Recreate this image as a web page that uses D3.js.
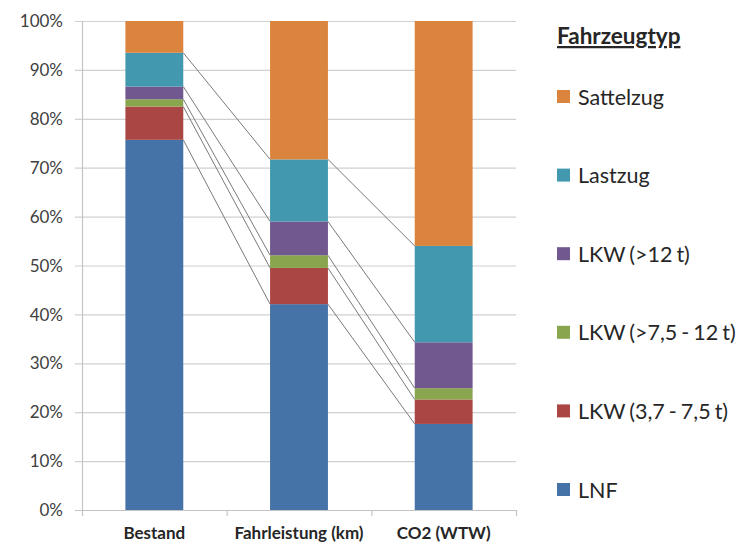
<!DOCTYPE html>
<html>
<head>
<meta charset="utf-8">
<script src="https://cdn.jsdelivr.net/npm/d3@7"></script>
<style>
  html, body { margin: 0; padding: 0; background: #fff; }
  svg { display: block; }
</style>
</head>
<body>
<svg id="chart" width="744" height="545"></svg>
<script>
// Categories along the x axis
const categories = ["Bestand", "Fahrleistung (km)", "CO2 (WTW)"];

// Vehicle types, bottom of the stack first
const seriesNames = ["LNF", "LKW (3,7 - 7,5 t)", "LKW (>7,5 - 12 t)", "LKW (>12 t)", "Lastzug", "Sattelzug"];

// Shares in percent per category (Bestand, Fahrleistung, CO2)
const lnf        = [75.7, 42.1, 17.6];
const lkw37_75   = [6.8, 7.4, 5.0];
const lkw75_12   = [1.5, 2.6, 2.3];
const lkw12      = [2.6, 6.9, 9.4];
const lastzug    = [6.9, 12.7, 19.7];
const sattelzug  = [6.5, 28.3, 46.0];

const yTicks = [0, 10, 20, 30, 40, 50, 60, 70, 80, 90, 100];
const colors = ["#4572A7", "#AA4643", "#89A54E", "#71588F", "#4198AF", "#DB843D"];

const seriesValues = [lnf, lkw37_75, lkw75_12, lkw12, lastzug, sattelzug];
const rows = categories.map((c, i) => {
  const r = { cat: c };
  seriesNames.forEach((s, j) => r[s] = seriesValues[j][i]);
  return r;
});

const svg = d3.select("#chart");
const plot = { left: 82, right: 516, top: 21, bottom: 510 };
const font = "Lato, 'Open Sans', sans-serif";

const x = d3.scaleBand().domain(categories).range([plot.left, plot.right]).paddingInner(0.6).paddingOuter(0.3);
const xOuter = d3.scaleBand().domain(categories).range([plot.left, plot.right]);
const y = d3.scaleLinear().domain([0, 100]).range([plot.bottom, plot.top]);

const layers = d3.stack().keys(seriesNames)(rows);

// Horizontal gridlines, with outside tick marks left of the value axis
svg.append("g").selectAll("line").data(yTicks.filter(t => t > 0)).join("line")
  .attr("x1", plot.left - 7).attr("x2", plot.right)
  .attr("y1", d => y(d) + 0.5).attr("y2", d => y(d) + 0.5)
  .attr("stroke", "#d0d0d0").attr("stroke-width", 1.2);

// Value axis line
svg.append("line")
  .attr("x1", plot.left + 0.5).attr("x2", plot.left + 0.5)
  .attr("y1", plot.top).attr("y2", plot.bottom)
  .attr("stroke", "#c4c4c4").attr("stroke-width", 1.2);

// Stacked columns
svg.append("g").selectAll("g").data(layers).join("g")
  .attr("fill", (d, i) => colors[i])
  .selectAll("rect").data(d => d).join("rect")
  .attr("x", d => x(d.data.cat))
  .attr("width", x.bandwidth())
  .attr("y", d => y(d[1]))
  .attr("height", d => y(d[0]) - y(d[1]));

// Series lines joining the top of each segment between neighbouring columns
// (the topmost segment always ends at 100 % and sits on the gridline)
const seriesLines = svg.append("g").attr("stroke", "#7a7a7a").attr("stroke-width", 1);
layers.slice(0, -1).forEach(layer => {
  for (let i = 0; i < layer.length - 1; i++) {
    seriesLines.append("line")
      .attr("x1", x(layer[i].data.cat) + x.bandwidth())
      .attr("y1", y(layer[i][1]))
      .attr("x2", x(layer[i + 1].data.cat))
      .attr("y2", y(layer[i + 1][1]));
  }
});

// Category axis with tick marks between categories
const xAxis = svg.append("g");
xAxis.append("line")
  .attr("x1", plot.left - 7).attr("x2", plot.right)
  .attr("y1", plot.bottom + 0.5).attr("y2", plot.bottom + 0.5)
  .attr("stroke", "#c4c4c4").attr("stroke-width", 1.2);
const boundaries = categories.map(c => xOuter(c)).concat([plot.right]);
xAxis.selectAll("line.tick").data(boundaries).join("line")
  .attr("class", "tick")
  .attr("x1", d => d + 0.5).attr("x2", d => d + 0.5)
  .attr("y1", plot.bottom).attr("y2", plot.bottom + 6)
  .attr("stroke", "#c4c4c4").attr("stroke-width", 1.2);
xAxis.selectAll("text").data(categories).join("text")
  .attr("x", d => x(d) + x.bandwidth() / 2)
  .attr("y", 539)
  .attr("text-anchor", "middle")
  .attr("font-family", font)
  .attr("font-weight", "bold")
  .attr("font-size", 17)
  .attr("fill", "#262626")
  .text(d => d);

// Percentage labels on the value axis
svg.append("g").selectAll("text").data(yTicks).join("text")
  .attr("x", 63)
  .attr("y", d => y(d))
  .attr("dy", "0.36em")
  .attr("text-anchor", "end")
  .attr("font-family", font)
  .attr("font-size", 17)
  .attr("fill", "#404040")
  .text(d => d + "%");

// Legend, top series first
const legend = svg.append("g");
legend.append("text")
  .attr("x", 557).attr("y", 44)
  .attr("font-family", font)
  .attr("font-weight", "bold")
  .attr("font-size", 22.5)
  .attr("fill", "#262626")
  .attr("text-decoration", "underline")
  .text("Fahrzeugtyp");

const legendOrder = seriesNames.map((s, i) => ({ name: s, color: colors[i] })).reverse();
const ly = d3.scalePoint().domain(legendOrder.map(d => d.name)).range([96, 489]);
const items = legend.selectAll("g.item").data(legendOrder).join("g").attr("class", "item")
  .attr("transform", d => `translate(557,${ly(d.name)})`);
items.append("rect").attr("x", 0).attr("y", -6).attr("width", 13).attr("height", 13).attr("fill", d => d.color);
items.append("text")
  .attr("x", 21).attr("y", 1).attr("dy", "0.35em")
  .attr("font-family", font)
  .attr("font-size", 21.5)
  .attr("word-spacing", "-1.5px")
  .attr("fill", "#262626")
  .text(d => d.name);
</script>
</body>
</html>
